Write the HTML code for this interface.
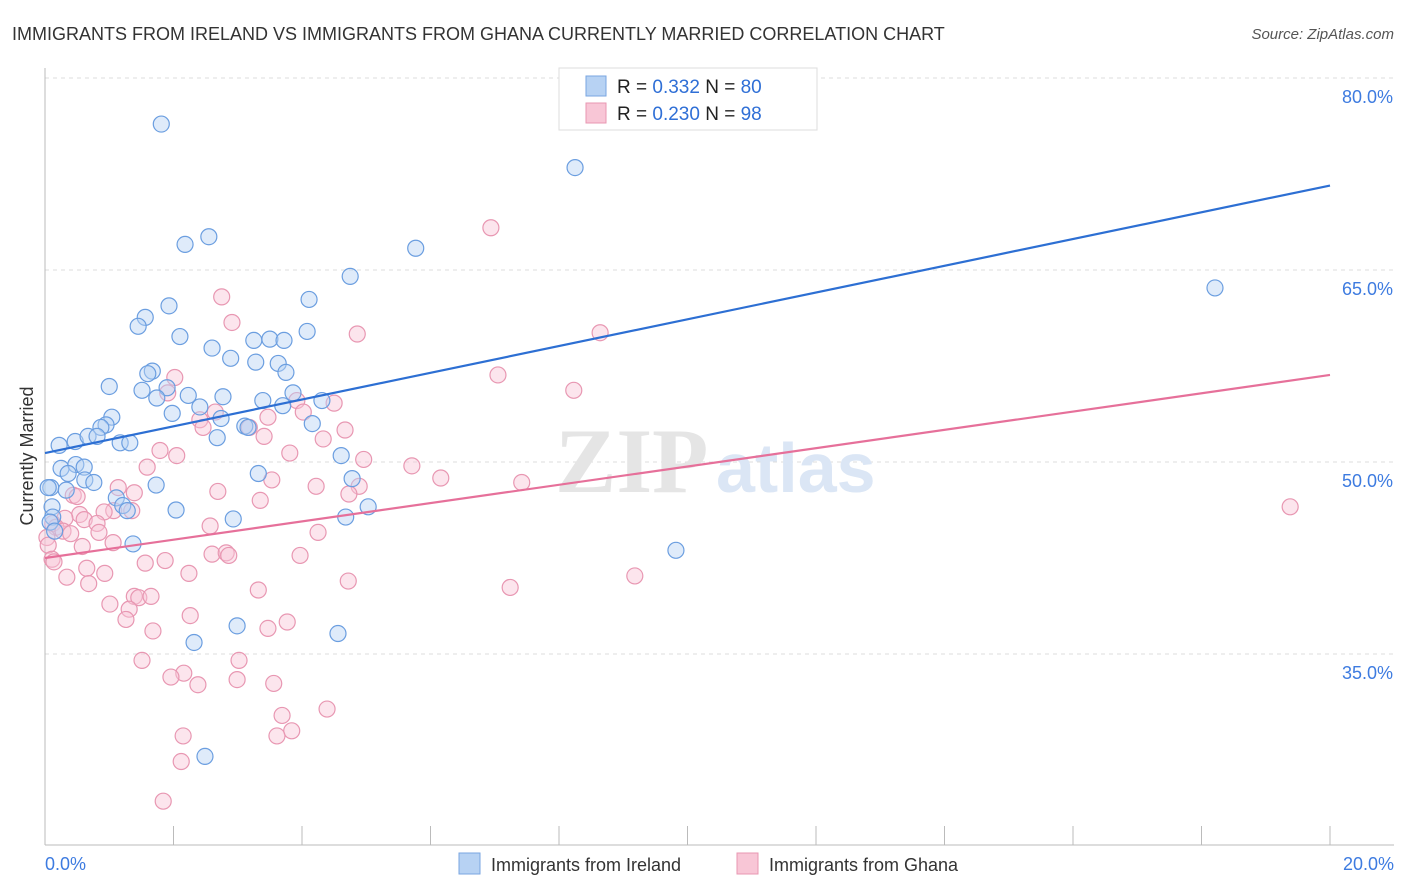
<!DOCTYPE html>
<html><head><meta charset="utf-8"><style>
body{margin:0;background:#fff;font-family:"Liberation Sans",sans-serif;}
#wrap{position:relative;width:1406px;height:892px;overflow:hidden;}
</style></head><body>
<div id="wrap">
<svg id="svg" width="1406" height="892" xmlns="http://www.w3.org/2000/svg">
<text x="12" y="40" font-size="18" fill="#333">IMMIGRANTS FROM IRELAND VS IMMIGRANTS FROM GHANA CURRENTLY MARRIED CORRELATION CHART</text>
<text x="1394" y="39" font-size="15" fill="#555" font-style="italic" text-anchor="end">Source: ZipAtlas.com</text>
<text x="33" y="456" font-size="18" fill="#333" text-anchor="middle" transform="rotate(-90 33 456)">Currently Married</text>
<g id="grid"></g>
<text x="555" y="492" font-size="92" fill="#e5e5e5" font-family="Liberation Serif,serif" font-weight="bold">ZIP</text>
<text x="716" y="492" font-size="70" fill="#dbe6f5" font-weight="bold">atlas</text>
<g id="axes"></g>
<g id="pts"></g>
<g id="lines"></g>
<g>
<rect x="559" y="68" width="258" height="62" fill="#fff" stroke="#ddd"/>
<rect x="586" y="76" width="20" height="20" fill="#b7d2f3" stroke="#7aa6e0"/>
<rect x="586" y="103" width="20" height="20" fill="#f8c6d6" stroke="#e897b2"/>
<text x="617" y="93" font-size="19" fill="#222">R = <tspan fill="#2f6fd6">0.332</tspan>   N = <tspan fill="#2f6fd6">80</tspan></text>
<text x="617" y="120" font-size="19" fill="#222">R = <tspan fill="#2f6fd6">0.230</tspan>   N = <tspan fill="#2f6fd6">98</tspan></text>
</g>
<g>
<rect x="459" y="853" width="21" height="21" fill="#b7d2f3" stroke="#7aa6e0"/>
<text x="491" y="871" font-size="18" fill="#333">Immigrants from Ireland</text>
<rect x="737" y="853" width="21" height="21" fill="#f8c6d6" stroke="#e897b2"/>
<text x="769" y="871" font-size="18" fill="#333">Immigrants from Ghana</text>
</g>
</svg>
</div>
<script>
const yTicks=[35,50,65,80];
const yTickLabels=["35.0%","50.0%","65.0%","80.0%"];
const xTicks=[0,2,4,6,8,10,12,14,16,18,20];
const xEdgeLabels=["0.0%","20.0%"];
const irelandX=[1.81,8.25,2.18,2.55,5.77,4.75,18.21,4.11,1.93,1.56,1.45,2.10,4.08,2.60,3.25,3.50,3.72,2.89,3.28,1.67,1.60,3.63,3.75,1.00,1.51,1.90,1.74,2.23,2.77,3.86,4.31,2.41,1.98,1.04,3.39,2.74,3.70,0.95,0.87,0.22,0.47,0.67,0.81,1.17,1.32,3.11,3.16,4.16,2.68,4.61,0.25,0.48,0.61,0.36,0.62,0.76,0.09,0.33,3.32,4.78,1.73,1.11,1.21,1.28,5.03,0.11,0.12,2.04,2.93,4.68,1.37,9.82,2.99,4.56,2.32,2.49,11.21,0.05,0.08,0.15];
const irelandY=[76.4,73.0,67.0,67.6,66.7,64.5,63.6,62.7,62.2,61.3,60.6,59.8,60.2,58.9,59.5,59.6,59.5,58.1,57.8,57.1,56.9,57.7,57.0,55.9,55.6,55.8,55.0,55.2,55.1,55.4,54.8,54.3,53.8,53.5,54.8,53.4,54.4,52.9,52.7,51.3,51.6,52.0,52.0,51.5,51.5,52.8,52.7,53.0,51.9,50.5,49.5,49.8,49.6,49.1,48.6,48.4,48.0,47.8,49.1,48.7,48.2,47.2,46.6,46.2,46.5,46.5,45.7,46.25,45.55,45.7,43.6,43.1,37.2,36.6,35.9,27.0,79.5,48.0,45.3,44.6];
const ghanaX=[6.94,2.75,2.91,4.86,8.64,7.05,2.02,8.23,1.91,3.92,4.50,2.65,2.41,3.47,4.02,2.46,3.18,3.41,4.67,4.33,1.79,2.05,3.81,4.96,5.71,1.59,6.16,7.42,3.53,4.22,4.89,4.73,0.44,0.50,2.69,1.39,1.14,3.35,1.07,0.54,0.92,1.35,0.31,0.61,0.12,0.17,0.81,0.84,0.28,0.40,0.03,0.05,1.06,4.25,2.57,19.38,0.58,0.11,0.14,2.60,2.82,2.86,3.97,1.56,1.87,0.65,0.93,2.24,0.34,0.68,4.72,9.18,7.24,3.32,1.01,1.39,1.46,1.65,1.31,1.26,2.26,3.77,3.47,1.68,1.51,3.02,2.16,1.96,2.38,2.99,3.56,4.39,3.69,3.84,3.61,2.15,2.12,1.84];
const ghanaY=[68.3,62.9,60.9,60.0,60.1,56.8,56.6,55.6,55.4,54.8,54.6,53.9,53.3,53.5,53.9,52.7,52.7,52.0,52.5,51.8,50.9,50.5,50.7,50.2,49.7,49.6,48.75,48.4,48.6,48.1,48.1,47.5,47.4,47.3,47.7,47.6,48.0,47.0,46.2,45.9,46.1,46.2,45.6,45.5,45.2,44.9,45.2,44.5,44.6,44.4,44.1,43.5,43.7,44.5,45.0,46.5,43.4,42.4,42.2,42.8,42.9,42.7,42.7,42.1,42.3,41.7,41.3,41.3,41.0,40.5,40.7,41.1,40.2,40.0,38.9,39.5,39.4,39.5,38.5,37.7,38.0,37.5,37.0,36.8,34.5,34.5,33.5,33.2,32.6,33.0,32.7,30.7,30.2,29.0,28.6,28.6,26.6,23.5];
const irelandTrend=[50.7,71.6];
const ghanaTrend=[42.5,56.8];

const NS="http://www.w3.org/2000/svg";
const X=v=>45+v/20*1285;
const Y=v=>462-(v-50)*12.8;
function mk(tag,attrs,parent){const e=document.createElementNS(NS,tag);for(const k in attrs)e.setAttribute(k,attrs[k]);parent.appendChild(e);return e;}
const grid=document.getElementById('grid'),axes=document.getElementById('axes'),pts=document.getElementById('pts'),lines=document.getElementById('lines');
yTicks.forEach((t,i)=>{
 const l=mk('line',{x1:45,x2:1394,y1:Y(t),y2:Y(t),stroke:'#ddd','stroke-dasharray':'4,4'},grid);
 
 
 const tx=mk('text',{x:1393,y:Y(t)+25,'font-size':18,fill:'#3d7be0','text-anchor':'end'},axes);
 tx.textContent=yTickLabels[i];
 
 
});
const topG=mk('line',{x1:45,x2:1394,y1:Y(80),y2:Y(80),stroke:'#ddd','stroke-dasharray':'4,4'},grid);
const ax=mk('line',{x1:45,x2:45,y1:68,y2:845,stroke:'#bbb'},axes);


const bx=mk('line',{x1:45,x2:1394,y1:845,y2:845,stroke:'#bbb'},axes);


xTicks.forEach(t=>{
 const l=mk('line',{x1:X(t),x2:X(t),y1:826,y2:845,stroke:'#bbb'},axes);
 
 
});
[[0,'start',45],[20,'end',1394]].forEach((d,i)=>{
 const tx=mk('text',{x:d[2],y:870,'font-size':18,fill:'#3d7be0','text-anchor':d[1]},axes);
 tx.textContent=xEdgeLabels[i];
 
 
});
function drawPts(xs,ys,fill,stroke,name){
 xs.forEach((x,i)=>{
  const c=mk('circle',{cx:X(x),cy:Y(ys[i]),r:8,fill:fill,'fill-opacity':0.45,stroke:stroke,'stroke-width':1.2},pts);
  
  
 });
}
drawPts(ghanaX,ghanaY,'#f8c6d6','#e897b2','ghana-point');
drawPts(irelandX,irelandY,'#b7d2f3','#6b9ee0','ireland-point');
const l1=mk('line',{x1:X(0),y1:Y(irelandTrend[0]),x2:X(20),y2:Y(irelandTrend[1]),stroke:'#2d6fd3','stroke-width':2.2},lines);


const l2=mk('line',{x1:X(0),y1:Y(ghanaTrend[0]),x2:X(20),y2:Y(ghanaTrend[1]),stroke:'#e6709a','stroke-width':2.2},lines);


</script>
</body></html>
